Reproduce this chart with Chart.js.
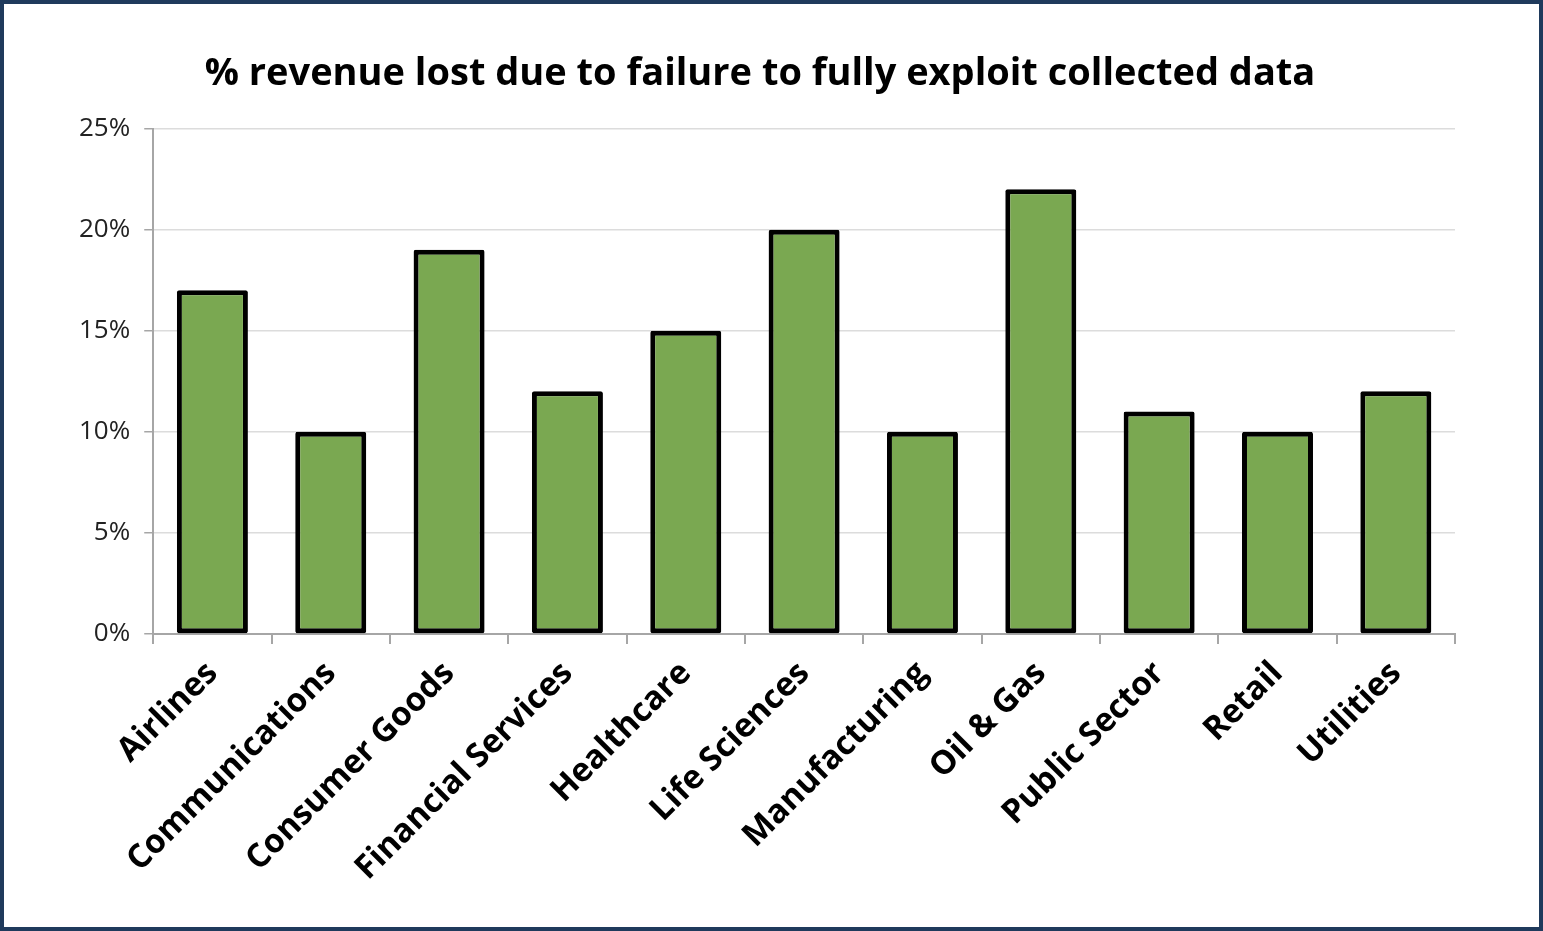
<!DOCTYPE html>
<html>
<head>
<meta charset="utf-8">
<script src="https://cdn.jsdelivr.net/npm/chart.js@4"></script>
<style>
  html, body { margin: 0; padding: 0; background: #fff; }
  #frame {
    width: 1543px; height: 931px; box-sizing: border-box;
    border: 4px solid #1f3a5c; background: #fff;
  }
  #chart { display: block; }
</style>
</head>
<body>
<div id="frame"><canvas id="chart" width="1535" height="923"></canvas></div>
<script>
  const categories = ['Airlines', 'Communications', 'Consumer Goods', 'Financial Services',
    'Healthcare', 'Life Sciences', 'Manufacturing', 'Oil & Gas', 'Public Sector', 'Retail', 'Utilities'];
  const revenueLost = [17, 10, 19, 12, 15, 20, 10, 22, 11, 10, 12];
  const yTicks = [0, 5, 10, 15, 20, 25];

  const ctx = document.getElementById('chart').getContext('2d');
  new Chart(ctx, {
    type: 'bar',
    data: {
      labels: categories,
      datasets: [{
        data: revenueLost,
        backgroundColor: '#7aa851',
        borderColor: '#000',
        borderWidth: 5,
        borderSkipped: false,
        borderRadius: 2,
        barPercentage: 0.6,
        categoryPercentage: 1
      }]
    },
    options: {
      responsive: false,
      animation: false,
      layout: { padding: { left: 61, right: 84, top: 10, bottom: 29 } },
      plugins: {
        legend: { display: false },
        tooltip: { enabled: false },
        title: {
          display: true,
          text: '% revenue lost due to failure to fully exploit collected data',
          color: '#000',
          font: { family: 'Open Sans', size: 38, weight: 'bold' },
          padding: { top: 37, bottom: 32 }
        }
      },
      scales: {
        x: {
          border: { color: '#a6a6a6', width: 2 },
          grid: { offset: true, drawOnChartArea: false, drawTicks: true, tickLength: 10, color: '#a6a6a6', lineWidth: 2 },
          ticks: {
            color: '#000',
            maxRotation: 45, minRotation: 45,
            font: { family: 'Open Sans', size: 33, weight: 'bold' },
            padding: 10
          }
        },
        y: {
          min: yTicks[0],
          max: yTicks[yTicks.length - 1],
          afterBuildTicks: axis => { axis.ticks = yTicks.map(v => ({ value: v })); },
          border: { color: '#a6a6a6', width: 2 },
          grid: { color: '#dcdcdc', lineWidth: 1.5, tickLength: 9, tickColor: '#a6a6a6' },
          ticks: {
            color: '#222',
            font: { family: 'Open Sans', size: 26 },
            padding: 14,
            callback: v => v + '%'
          }
        }
      }
    }
  });
</script>
</body>
</html>
